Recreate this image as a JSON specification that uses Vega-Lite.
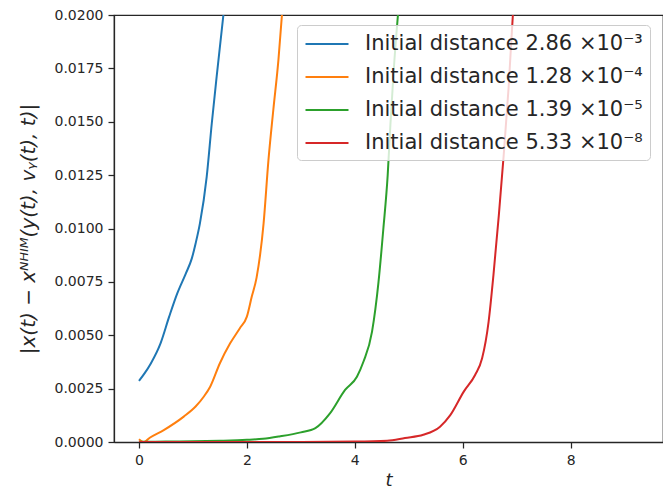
{
  "$schema": "https://vega.github.io/schema/vega-lite/v6.json",
  "width": 549,
  "height": 427,
  "autosize": "none",
  "padding": {"left": 114, "top": 15, "right": 0, "bottom": 47},
  "background": "white",
  "config": {
    "font": "DejaVu Sans",
    "view": {"stroke": "#262626", "strokeWidth": 1.25},
    "axis": {
      "grid": false,
      "domainColor": "#262626",
      "domainWidth": 1.25,
      "tickColor": "#262626",
      "tickWidth": 1.25,
      "tickSize": 6,
      "labelColor": "#262626",
      "labelFont": "DejaVu Sans",
      "labelFontSize": 14,
      "labelPadding": 5,
      "titleColor": "#262626",
      "titleFont": "DejaVu Sans",
      "titleFontSize": 18,
      "titleFontWeight": "normal"
    }
  },
  "data": {
    "values": [
      {"s": "Initial distance 2.86 ×10⁻³", "t": 0, "v": 0.00286},
      {"s": "Initial distance 2.86 ×10⁻³", "t": 0.1, "v": 0.0032},
      {"s": "Initial distance 2.86 ×10⁻³", "t": 0.22, "v": 0.00368},
      {"s": "Initial distance 2.86 ×10⁻³", "t": 0.4, "v": 0.00462},
      {"s": "Initial distance 2.86 ×10⁻³", "t": 0.56, "v": 0.00587},
      {"s": "Initial distance 2.86 ×10⁻³", "t": 0.71, "v": 0.00696},
      {"s": "Initial distance 2.86 ×10⁻³", "t": 0.87, "v": 0.0079},
      {"s": "Initial distance 2.86 ×10⁻³", "t": 0.98, "v": 0.0086},
      {"s": "Initial distance 2.86 ×10⁻³", "t": 1.05, "v": 0.0093},
      {"s": "Initial distance 2.86 ×10⁻³", "t": 1.13, "v": 0.01024},
      {"s": "Initial distance 2.86 ×10⁻³", "t": 1.256, "v": 0.01243},
      {"s": "Initial distance 2.86 ×10⁻³", "t": 1.35, "v": 0.01493},
      {"s": "Initial distance 2.86 ×10⁻³", "t": 1.44, "v": 0.01711},
      {"s": "Initial distance 2.86 ×10⁻³", "t": 1.565, "v": 0.02},
      {"s": "Initial distance 1.28 ×10⁻⁴", "t": 0, "v": 0.000128},
      {"s": "Initial distance 1.28 ×10⁻⁴", "t": 0.09, "v": 0.0},
      {"s": "Initial distance 1.28 ×10⁻⁴", "t": 0.2, "v": 0.0002},
      {"s": "Initial distance 1.28 ×10⁻⁴", "t": 0.46, "v": 0.00056},
      {"s": "Initial distance 1.28 ×10⁻⁴", "t": 0.83, "v": 0.00119},
      {"s": "Initial distance 1.28 ×10⁻⁴", "t": 1.05, "v": 0.00166},
      {"s": "Initial distance 1.28 ×10⁻⁴", "t": 1.2, "v": 0.00212},
      {"s": "Initial distance 1.28 ×10⁻⁴", "t": 1.32, "v": 0.00259},
      {"s": "Initial distance 1.28 ×10⁻⁴", "t": 1.5, "v": 0.00369},
      {"s": "Initial distance 1.28 ×10⁻⁴", "t": 1.69, "v": 0.00462},
      {"s": "Initial distance 1.28 ×10⁻⁴", "t": 1.87, "v": 0.00533},
      {"s": "Initial distance 1.28 ×10⁻⁴", "t": 2.0, "v": 0.00587},
      {"s": "Initial distance 1.28 ×10⁻⁴", "t": 2.09, "v": 0.0068},
      {"s": "Initial distance 1.28 ×10⁻⁴", "t": 2.18, "v": 0.0077},
      {"s": "Initial distance 1.28 ×10⁻⁴", "t": 2.31, "v": 0.01024},
      {"s": "Initial distance 1.28 ×10⁻⁴", "t": 2.4, "v": 0.0132},
      {"s": "Initial distance 1.28 ×10⁻⁴", "t": 2.49, "v": 0.01555},
      {"s": "Initial distance 1.28 ×10⁻⁴", "t": 2.585, "v": 0.0179},
      {"s": "Initial distance 1.28 ×10⁻⁴", "t": 2.65, "v": 0.02},
      {"s": "Initial distance 1.39 ×10⁻⁵", "t": 0, "v": 0.0000139},
      {"s": "Initial distance 1.39 ×10⁻⁵", "t": 0.5, "v": 0.00002},
      {"s": "Initial distance 1.39 ×10⁻⁵", "t": 1.0, "v": 0.00004},
      {"s": "Initial distance 1.39 ×10⁻⁵", "t": 1.5, "v": 0.00006},
      {"s": "Initial distance 1.39 ×10⁻⁵", "t": 2.0, "v": 0.0001},
      {"s": "Initial distance 1.39 ×10⁻⁵", "t": 2.3, "v": 0.00015},
      {"s": "Initial distance 1.39 ×10⁻⁵", "t": 2.6, "v": 0.00026},
      {"s": "Initial distance 1.39 ×10⁻⁵", "t": 3.0, "v": 0.00045},
      {"s": "Initial distance 1.39 ×10⁻⁵", "t": 3.27, "v": 0.00065},
      {"s": "Initial distance 1.39 ×10⁻⁵", "t": 3.54, "v": 0.00134},
      {"s": "Initial distance 1.39 ×10⁻⁵", "t": 3.82, "v": 0.00244},
      {"s": "Initial distance 1.39 ×10⁻⁵", "t": 4.04, "v": 0.00306},
      {"s": "Initial distance 1.39 ×10⁻⁵", "t": 4.16, "v": 0.00376},
      {"s": "Initial distance 1.39 ×10⁻⁵", "t": 4.32, "v": 0.00517},
      {"s": "Initial distance 1.39 ×10⁻⁵", "t": 4.44, "v": 0.0075},
      {"s": "Initial distance 1.39 ×10⁻⁵", "t": 4.53, "v": 0.01},
      {"s": "Initial distance 1.39 ×10⁻⁵", "t": 4.61, "v": 0.0125},
      {"s": "Initial distance 1.39 ×10⁻⁵", "t": 4.66, "v": 0.01485},
      {"s": "Initial distance 1.39 ×10⁻⁵", "t": 4.72, "v": 0.01735},
      {"s": "Initial distance 1.39 ×10⁻⁵", "t": 4.8, "v": 0.02},
      {"s": "Initial distance 5.33 ×10⁻⁸", "t": 0, "v": 0.0000000533},
      {"s": "Initial distance 5.33 ×10⁻⁸", "t": 2, "v": 0.000001},
      {"s": "Initial distance 5.33 ×10⁻⁸", "t": 3, "v": 0.000005},
      {"s": "Initial distance 5.33 ×10⁻⁸", "t": 4, "v": 0.00002},
      {"s": "Initial distance 5.33 ×10⁻⁸", "t": 4.6, "v": 0.00006},
      {"s": "Initial distance 5.33 ×10⁻⁸", "t": 4.93, "v": 0.00019},
      {"s": "Initial distance 5.33 ×10⁻⁸", "t": 5.27, "v": 0.00034},
      {"s": "Initial distance 5.33 ×10⁻⁸", "t": 5.58, "v": 0.00072},
      {"s": "Initial distance 5.33 ×10⁻⁸", "t": 5.77, "v": 0.00126},
      {"s": "Initial distance 5.33 ×10⁻⁸", "t": 6.02, "v": 0.00236},
      {"s": "Initial distance 5.33 ×10⁻⁸", "t": 6.23, "v": 0.00314},
      {"s": "Initial distance 5.33 ×10⁻⁸", "t": 6.36, "v": 0.00392},
      {"s": "Initial distance 5.33 ×10⁻⁸", "t": 6.48, "v": 0.00563},
      {"s": "Initial distance 5.33 ×10⁻⁸", "t": 6.57, "v": 0.00782},
      {"s": "Initial distance 5.33 ×10⁻⁸", "t": 6.67, "v": 0.01063},
      {"s": "Initial distance 5.33 ×10⁻⁸", "t": 6.76, "v": 0.01344},
      {"s": "Initial distance 5.33 ×10⁻⁸", "t": 6.85, "v": 0.01657},
      {"s": "Initial distance 5.33 ×10⁻⁸", "t": 6.93, "v": 0.02}
    ]
  },
  "mark": {"type": "line", "interpolate": "monotone", "strokeWidth": 2, "clip": true},
  "encoding": {
    "x": {
      "field": "t",
      "type": "quantitative",
      "scale": {"domain": [-0.4625, 9.7125], "nice": false, "zero": false},
      "axis": {"values": [0, 2, 4, 6, 8], "title": "t", "titleFontStyle": "italic", "titlePadding": 4}
    },
    "y": {
      "field": "v",
      "type": "quantitative",
      "scale": {"domain": [0, 0.02], "nice": false},
      "axis": {
        "values": [0, 0.0025, 0.005, 0.0075, 0.01, 0.0125, 0.015, 0.0175, 0.02],
        "format": ".4f",
        "title": "|x(t) − xᴺᴴᴵᴹ(y(t), vᵧ(t), t)|",
        "titleFontStyle": "italic",
        "titleFontSize": 20,
        "titlePadding": 16
      }
    },
    "color": {
      "field": "s",
      "type": "nominal",
      "sort": null,
      "scale": {
        "domain": ["Initial distance 2.86 ×10⁻³", "Initial distance 1.28 ×10⁻⁴", "Initial distance 1.39 ×10⁻⁵", "Initial distance 5.33 ×10⁻⁸"],
        "range": ["#1f77b4", "#ff7f0e", "#2ca02c", "#d62728"]
      },
      "legend": {
        "title": null,
        "orient": "none",
        "legendX": 183,
        "legendY": 10,
        "symbolType": "M-2,0H2",
        "symbolSize": 462,
        "symbolStrokeWidth": 2,
        "symbolOffset": 11,
        "labelFontSize": 21,
        "labelFont": "DejaVu Sans",
        "labelColor": "#262626",
        "labelLimit": 400,
        "labelOffset": 26,
        "rowPadding": 11,
        "padding": 7,
        "cornerRadius": 4,
        "strokeColor": "#cccccc",
        "fillColor": "rgba(255,255,255,0.8)"
      }
    }
  }
}
